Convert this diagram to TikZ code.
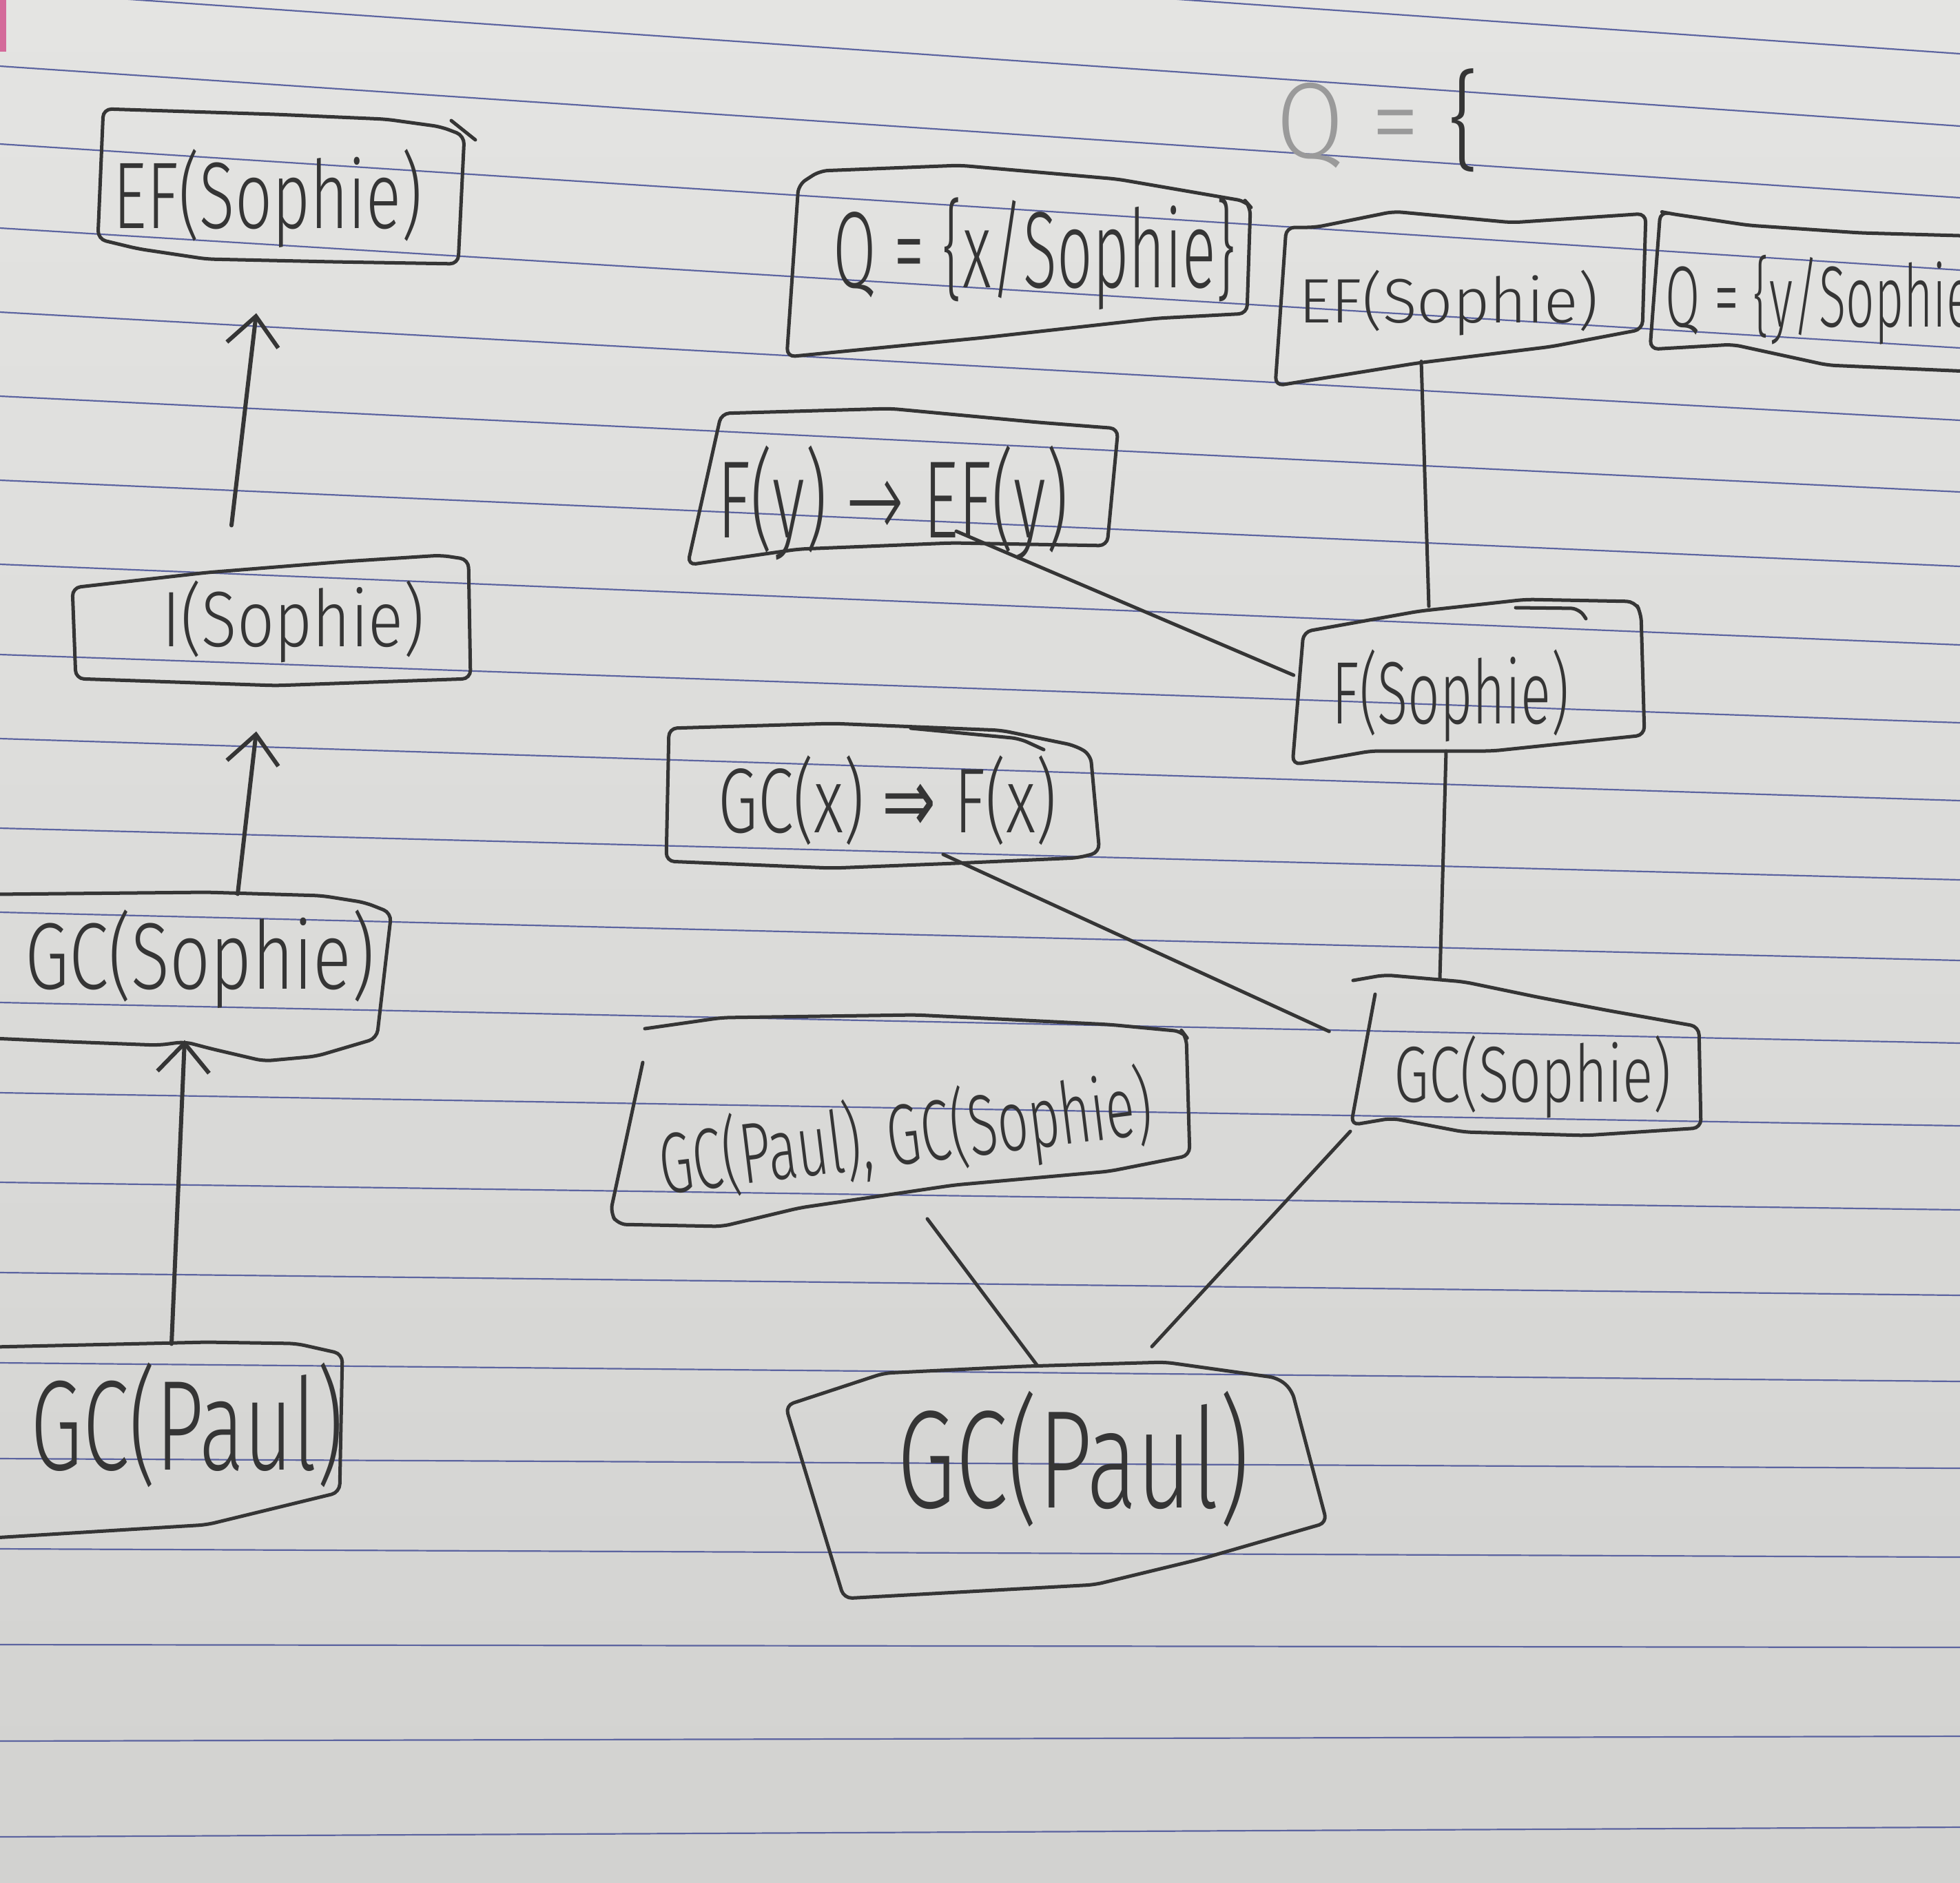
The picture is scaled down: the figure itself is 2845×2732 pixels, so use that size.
\documentclass[tikz,border=0pt]{standalone}
\usepackage{fontspec}
\setmainfont{Fira Sans Light}
\newfontfamily\symlight{DejaVu Sans ExtraLight}
\newfontfamily\symfont{DejaVu Sans}
\usepackage{graphicx}
\usetikzlibrary{calc,arrows.meta}
\definecolor{paperT}{HTML}{E4E4E2}
\definecolor{paperB}{HTML}{D2D2D0}
\definecolor{rulecol}{RGB}{92,100,160}
\definecolor{pencil}{HTML}{353535}
\definecolor{faint}{HTML}{9A9A9A}
\definecolor{margincol}{HTML}{D46A9A}
% handwritten label squeezed to a given width and total height (in cm)
\newcommand\hw[3]{\resizebox*{#1cm}{#2cm}{#3}}

\begin{document}
\begin{tikzpicture}[x=0.01cm,y=-0.01cm,
  pen/.style={draw=pencil,line width=0.05cm,line cap=round,line join=round,rounded corners=0.12cm},
  link/.style={draw=pencil,line width=0.05cm,line cap=round},
  uparrow/.style={draw=pencil,line width=0.06cm,line cap=round,-{Straight Barb[length=0.42cm,width=0.75cm]}},
  txt/.style={inner sep=0pt,outer sep=0pt,text=pencil}]
\useasboundingbox (0,0) rectangle (2845,2732);
\clip (0,0) rectangle (2845,2732);

% ruled paper
\shade[top color=paperT,bottom color=paperB] (0,0) rectangle (2845,2732);
\foreach \l/\r in {-120/78,-14/183,96/287,209/392,331/505,453/610,575/714,697/822,
  819/936,950/1049,1072/1162,1202/1277,1324/1394,1455/1514,1586/1634,1716/1756,
  1847/1880,1978/2005,2117/2131,2248/2260,2387/2391,2527/2520,2666/2652}
  \draw[rulecol,line width=0.022cm] (0,\l) -- (2845,\r);
\fill[margincol] (0,0) rectangle (9,75);

% ---------- left chain ----------
\node[txt] (efL)  at (389,288)  {\hw{4.48}{1.43}{EF(Sophie)}};
\node[txt] (iS)   at (426,902)  {\hw{3.81}{1.19}{I(Sophie)}};
\node[txt] (gcsL) at (290,1392) {\hw{5.07}{1.43}{GC(Sophie)}};
\node[txt] (gcpL) at (272,2068) {\hw{4.54}{1.81}{GC(Paul)}};

\draw[pen] (150,158) -- (400,166) -- (560,173) -- (640,184) -- (674,197) -- (669,300)
  -- (665,383) -- (483,380) -- (300,376) -- (200,361) -- (142,347) -- cycle;
\draw[pen] (655,175) -- (690,203);
\draw[pen] (105,853) -- (300,831) -- (500,815) -- (640,806) -- (680,812) -- (683,985)
  -- (400,995) -- (110,985) -- cycle;
\draw[pen] (-10,1298) -- (300,1295) -- (467,1300) -- (530,1310) -- (568,1325) -- (547,1507)
  -- (459,1533) -- (383,1540) -- (306,1522) -- (268,1512) -- (230,1517) -- (100,1512) -- (-10,1507);
\draw[pen] (-10,1955) -- (300,1948) -- (430,1950) -- (497,1965) -- (493,2166) -- (300,2213) -- (-10,2232);

\draw[uparrow] ($(iS.north)+(-90,-80)$) -- ($(efL.south)+(-17,95)$);
\draw[uparrow] ($(gcsL.north)+(55,-23)$) -- ($(iS.south)+(-54,100)$);
\draw[uparrow] ($(gcpL.north)+(-23,-27)$) -- ($(gcsL.south)+(-22,46)$);

% ---------- right graph ----------
\node[txt] (qtop) at (2000,175) {\hw{2.95}{1.50}{\textcolor{faint}{Q = }\{}};
\node[txt] (qx)   at (1502,368) {\hw{5.84}{1.63}{Q = \{x/Sophie\}}};
\node[txt] (efR)  at (2103,440) {\hw{4.34}{0.95}{EF(Sophie)}};
\node[txt] (qy)   at (2653,435) {\hw{4.70}{1.30}{Q = \{y/Sophie\}}};
\node[txt] (fy)   at (1296,730) {\hw{5.09}{1.66}{F(y) {\symlight →} EF(y)}};
\node[txt] (fs)   at (2106,1010) {\hw{3.44}{1.34}{F(Sophie)}};
\node[txt] (gcx)  at (1288,1162) {\hw{4.91}{1.30}{GC(x) {\symfont ⇒} F(x)}};
\node[txt] (gcsR) at (2225,1563) {\hw{4.03}{1.20}{GC(Sophie)}};
\node[txt,rotate=7] (gcpgcs) at (1315,1650) {\hw{7.20}{1.30}{GC(Paul), GC(Sophie)}};
\node[txt] (gcpB) at (1558,2118) {\hw{5.11}{1.97}{GC(Paul)}};

\draw[pen] (1159,268) -- (1190,248) -- (1393,240) -- (1622,260) -- (1808,292) -- (1815,300)
  -- (1810,455) -- (1680,462) -- (1428,490) -- (1142,518) -- cycle;
\draw[pen] (1867,330) -- (1909,330) -- (2023,307) -- (2195,323) -- (2389,310) -- (2384,478)
  -- (2252,503) -- (2057,527) -- (1851,560) -- cycle;
\draw[pen] (2880,343) -- (2700,338) -- (2538,327) -- (2424,310) -- (2410,307) -- (2395,507)
  -- (2515,500) -- (2653,530) -- (2880,540);
\draw[pen] (1047,600) -- (1292,593) -- (1507,613) -- (1623,622) -- (1607,792) -- (1382,788)
  -- (1159,797) -- (998,820) -- cycle;
\draw[pen] (1892,917) -- (2060,887) -- (2215,870) -- (2373,873) -- (2382,890) -- (2387,1067)
  -- (2166,1090) -- (1990,1090) -- (1876,1110) -- cycle;
\draw[pen] (2200,882) -- (2292,883) -- (2302,898);
\draw[pen] (971,1057) -- (1208,1050) -- (1453,1060) -- (1560,1082) -- (1583,1095) -- (1596,1237)
  -- (1565,1245) -- (1386,1253) -- (1208,1260) -- (967,1250) -- cycle;
\draw[pen] (1322,1057) -- (1480,1072) -- (1515,1088);
\draw[pen] (1964,1423) -- (2010,1415) -- (2125,1425) -- (2231,1447) -- (2336,1467) -- (2466,1490)
  -- (2469,1637) -- (2301,1648) -- (2125,1643) -- (2020,1623) -- (1961,1633) -- (1996,1443);
\draw[pen] (936,1493) -- (1048,1477) -- (1329,1473) -- (1610,1487) -- (1716,1497) -- (1722,1505)
  -- (1727,1677) -- (1610,1700) -- (1385,1720) -- (1161,1753) -- (1048,1780) -- (897,1777)
  -- (886,1760) -- (933,1542);
\draw[pen] (1140,2040) -- (1283,1993) -- (1487,1983) -- (1691,1977) -- (1855,2000) -- (1875,2017)
  -- (1926,2210) -- (1742,2263) -- (1589,2300) -- (1225,2320) -- cycle;

% connectors
\draw[link] ($(efR.south)+(-40,37)$) -- ($(fs.north)+(-32,-63)$);
\draw[link] ($(fy.center)+(92,41)$) -- ($(fs.west)+(-56,-30)$);
\draw[link] ($(fs.south)+(-7,13)$) -- ($(gcsR.north)+(-135,-83)$);
\draw[link] ($(gcx.south)+(81,13)$) -- ($(gcsR.west)+(-94,-66)$);
\draw[link] ($(gcpgcs.center)+(31,119)$) -- ($(gcpB.north)+(-52,-37)$);
\draw[link] ($(gcsR.south)+(-265,19)$) -- ($(gcpB.north)+(114,-65)$);
\end{tikzpicture}
\end{document}
